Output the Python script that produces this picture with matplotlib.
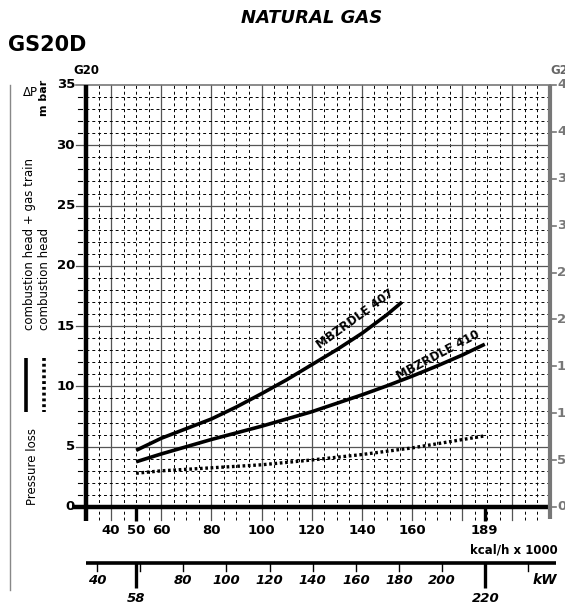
import matplotlib.pyplot as plt
from matplotlib.lines import Line2D
import numpy as np

# ---- data (kcal/h x 1000 vs mbar, G20) ----
x_407 = [50, 55, 60, 70, 80, 90, 100, 110, 120, 130, 140, 150, 156]
y_407 = [4.7, 5.2, 5.7, 6.5, 7.3, 8.3, 9.4, 10.55, 11.8, 13.05, 14.4, 15.95, 17.0]

x_410 = [50, 60, 70, 80, 90, 100, 110, 120, 130, 140, 150, 160, 170, 180, 189]
y_410 = [3.75, 4.4, 5.0, 5.6, 6.15, 6.7, 7.3, 7.9, 8.6, 9.3, 10.05, 10.85, 11.7, 12.6, 13.5]

x_head = [50, 60, 80, 100, 120, 140, 160, 189]
y_head = [2.8, 3.0, 3.25, 3.5, 3.9, 4.35, 4.9, 5.9]

kcal_labels = [40, 50, 60, 80, 100, 120, 140, 160, 189]
kw_labels = [40, 80, 100, 120, 140, 160, 180, 200]
kw_ticks = [40, 60, 80, 100, 120, 140, 160, 180, 200, 240]
kw_marks = [58, 220]
g20_labels = [0, 5, 10, 15, 20, 25, 30, 35]
g25_labels = [0, 5, 10, 15, 20, 25, 30, 35, 40, 45]

W, H = 565, 606
X0, X1, Y0, Y1 = 86, 550, 507, 85      # plot box in pixels
XMIN, XMAX, YMAX = 30, 215, 35

plt.rcParams['font.family'] = ['DejaVu Sans']
fig = plt.figure(figsize=(W / 100, H / 100), dpi=100)
ax = fig.add_axes([X0 / W, 1 - Y0 / H, (X1 - X0) / W, (Y0 - Y1) / H])
ax.set_xlim(XMIN, XMAX)
ax.set_ylim(0, YMAX)
ax.axis('off')


def yf(py):
    # pixel row -> axes fraction
    return (Y0 - py) / (Y0 - Y1)


def xf(px):
    return (px - X0) / (X1 - X0)


tx = ax.get_xaxis_transform()
ty = ax.get_yaxis_transform()

# grid
for v in range(35, 215, 5):
    if v % 20 == 0:
        ax.plot([v, v], [yf(Y0 + 13), 1], transform=tx, color='#555555', lw=0.9,
                clip_on=False, zorder=1)
    else:
        ax.plot([v, v], [yf(Y0 + 13), 1], transform=tx, color='black', lw=0.7,
                ls=(0, (3, 3)), clip_on=False, zorder=1)
for v in range(1, 35):
    if v % 5 == 0:
        ax.plot([xf(76), 1], [v, v], transform=ty, color='#555555', lw=0.9,
                clip_on=False, zorder=1)
    else:
        ax.plot([xf(78), xf(82)], [v, v], transform=ty, color='black', lw=0.8,
                clip_on=False, zorder=1)
        ax.plot([0, 1], [v, v], transform=ty, color='black', lw=0.7,
                ls=(0, (3, 3)), zorder=1)
ax.plot([xf(76), 1], [35, 35], transform=ty, color='#777777', lw=1.2,
        clip_on=False, zorder=1)

# axes lines
ax.plot([0, 0], [yf(Y0 + 14), 1], transform=ax.transAxes, color='black', lw=3.2,
        clip_on=False, zorder=4, solid_capstyle='butt')
ax.plot([xf(72), 1], [0, 0], transform=ax.transAxes, color='black', lw=3.2,
        clip_on=False, zorder=4, solid_capstyle='butt')
ax.plot([1, 1], [yf(Y0 + 12), 1], transform=ax.transAxes, color='#777777', lw=3,
        clip_on=False, zorder=4, solid_capstyle='butt')
for v in [50, 189]:
    ax.plot([v, v], [yf(Y0 + 14), 0], transform=tx, color='black', lw=2.4,
            clip_on=False, zorder=4, solid_capstyle='butt')

# curves
ax.plot(x_407, y_407, color='black', lw=2.6, zorder=5, solid_capstyle='butt')
ax.plot(x_410, y_410, color='black', lw=2.6, zorder=5, solid_capstyle='butt')
ax.plot(x_head, y_head, color='black', lw=2.4, ls=(0, (0.8, 0.8)), zorder=5)
ax.text(137.5, 15.6, 'MBZRDLE 407', rotation=36, ha='center', va='center',
        fontsize=8.5, fontweight='bold', zorder=6)
ax.text(170.5, 12.6, 'MBZRDLE 410', rotation=28, ha='center', va='center',
        fontsize=8.5, fontweight='bold', zorder=6)

# tick labels
for v in g20_labels:
    ax.text(xf(75), v, str(v), transform=ty, ha='right', va='center',
            fontsize=9.5, fontweight='bold')
for v in g25_labels:
    yv = v * YMAX / 45
    ax.plot([1, xf(556)], [yv, yv], transform=ty, color='#777777', lw=1.2,
            clip_on=False)
    ax.text(xf(557), yv, str(v), transform=ty, ha='left', va='center',
            fontsize=9.5, fontweight='bold', color='#777777', clip_on=False)
for v in kcal_labels:
    ax.text(v, yf(530), str(v), transform=tx, ha='center', va='center',
            fontsize=9.5, fontweight='bold')
ax.text(xf(558), yf(550), 'kcal/h x 1000', transform=ax.transAxes, ha='right',
        va='center', fontsize=8.5, fontweight='bold')

# kW scale
k = 0.86
ax.plot([xf(86), xf(556)], [yf(563), yf(563)], transform=ax.transAxes,
        color='black', lw=2.6, clip_on=False, solid_capstyle='butt')
for v in kw_ticks:
    ax.plot([v * k, v * k], [yf(563), yf(571)], transform=tx, color='black',
            lw=1, clip_on=False)
for v in kw_marks:
    ax.plot([v * k, v * k], [yf(563), yf(588)], transform=tx, color='black',
            lw=2.4, clip_on=False, solid_capstyle='butt')
    ax.text(v * k, yf(599), str(v), transform=tx, ha='center', va='center',
            fontsize=9.5, fontweight='bold', style='italic')
for v in kw_labels:
    ax.text(v * k, yf(580), str(v), transform=tx, ha='center', va='center',
            fontsize=9.5, fontweight='bold', style='italic')
ax.text(xf(557), yf(580), 'kW', transform=ax.transAxes, ha='right', va='center',
        fontsize=10, fontweight='bold', style='italic')

# titles
fig.text(312 / W, 1 - 18 / H, 'NATURAL GAS', ha='center', va='center',
         fontsize=13, fontweight='bold', style='italic')
fig.text(8 / W, 1 - 45 / H, 'GS20D', ha='left', va='center',
         fontsize=15, fontweight='bold')
fig.text(86 / W, 1 - 70 / H, 'G20', ha='center', va='center',
         fontsize=8.5, fontweight='heavy')
fig.text(550 / W, 1 - 70 / H, 'G25', ha='left', va='center',
         fontsize=8.5, fontweight='heavy', color='#666666')

# left side legend
fig.add_artist(Line2D([10 / W, 10 / W], [1 - 85 / H, 1 - 590 / H], color='#888888',
                      lw=1))
fig.text(23 / W, 1 - 92 / H, 'ΔP', ha='left', va='center', fontsize=8.5)
fig.text(44 / W, 1 - 98 / H, 'm bar', ha='center', va='center', fontsize=8,
         fontweight='bold', rotation=90)
fig.text(33 / W, 1 - 505 / H, 'Pressure loss', ha='left', va='center',
         rotation=90, rotation_mode='anchor', fontsize=8.5)
fig.text(30 / W, 1 - 330 / H, 'combustion head + gas train', ha='left',
         va='center', rotation=90, rotation_mode='anchor', fontsize=8.5)
fig.text(44 / W, 1 - 330 / H, 'combustion head', ha='left', va='center',
         rotation=90, rotation_mode='anchor', fontsize=8.5)
fig.add_artist(Line2D([26 / W, 26 / W], [1 - 358 / H, 1 - 412 / H], color='black',
                      lw=2.6, solid_capstyle='butt'))
fig.add_artist(Line2D([44 / W, 44 / W], [1 - 358 / H, 1 - 412 / H], color='black',
                      lw=2.6, ls=(0, (0.8, 0.8))))

fig.savefig('out.png', dpi=100)
